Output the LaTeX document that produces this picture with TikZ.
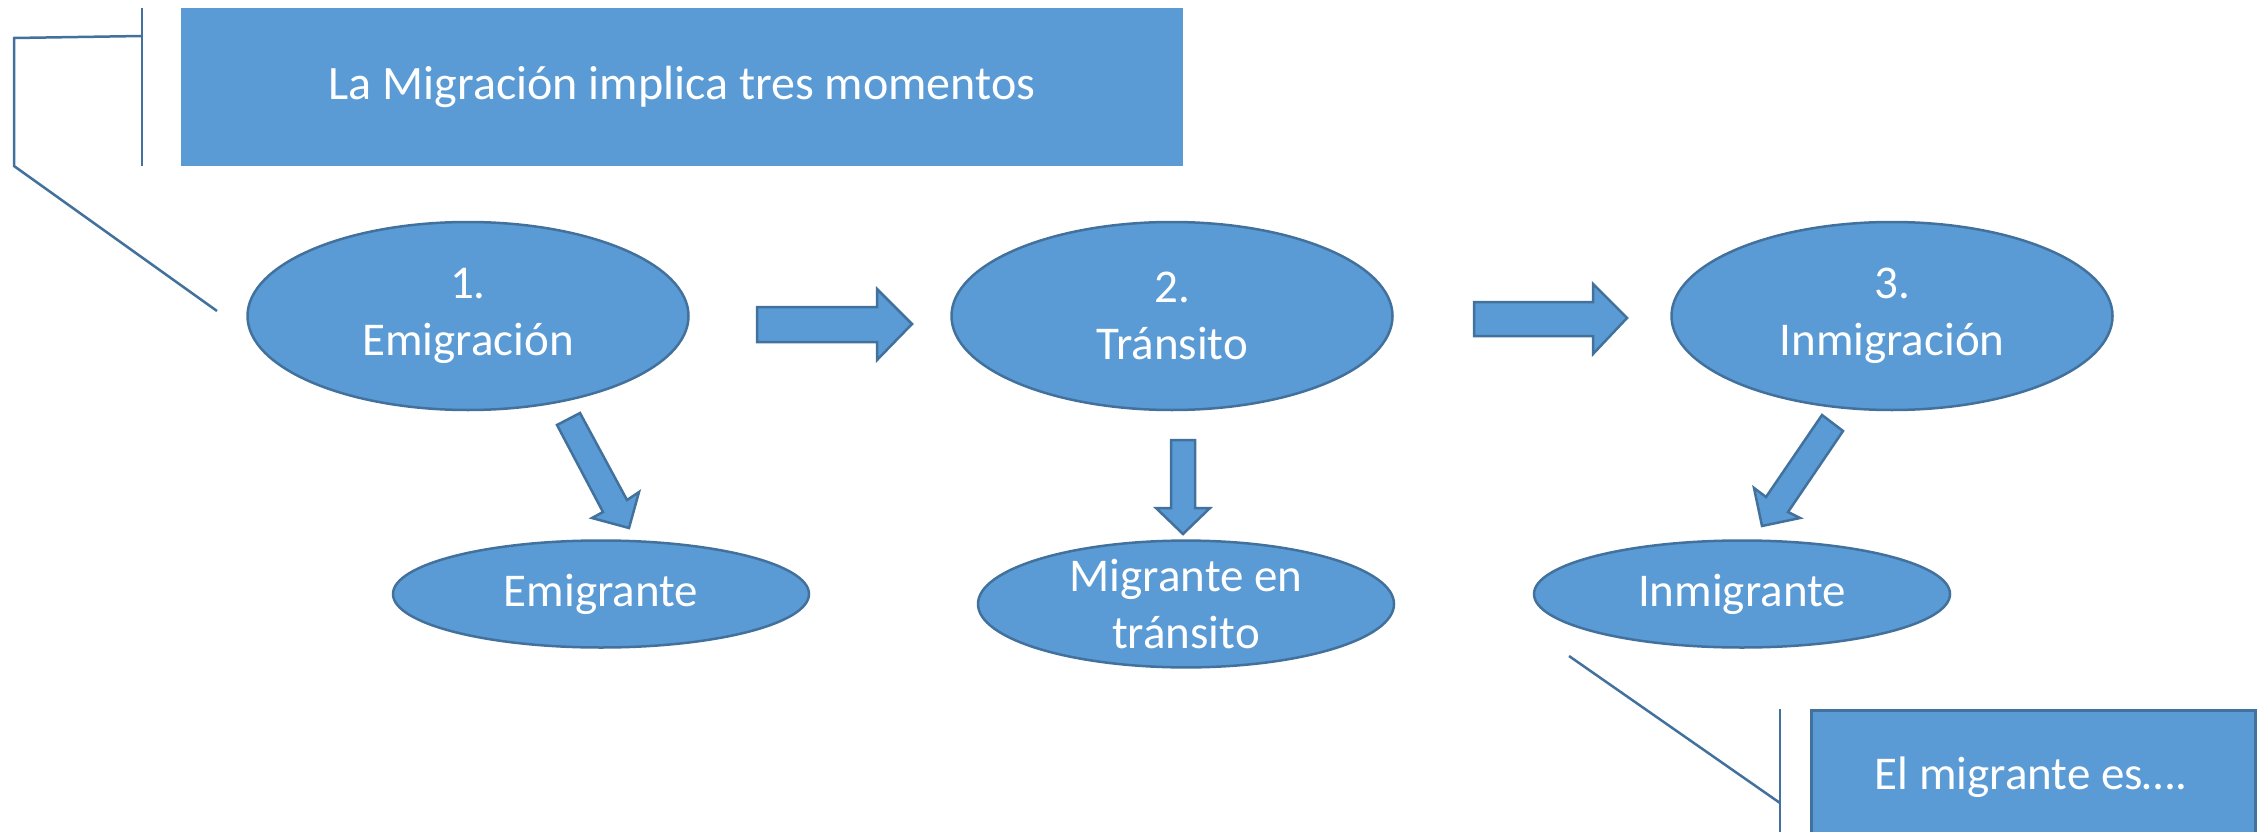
\documentclass[tikz,border=0pt]{standalone}
\usepackage{fontspec}
\setmainfont{Carlito}
\usetikzlibrary{shapes.geometric}
\definecolor{fillblue}{HTML}{5B9BD5}
\definecolor{edgeblue}{HTML}{41719C}
\tikzset{
  oval/.style={ellipse, fill=fillblue, draw=edgeblue, line width=2.5pt, text=white, align=center, inner sep=0pt,
    font=\fontsize{47}{57}\selectfont},
  blockarrow/.style={fill=fillblue, draw=edgeblue, line width=2.5pt, line join=miter},
  callline/.style={draw=edgeblue, line width=2.5pt},
  titlebox/.style={rectangle, fill=fillblue, text=white, inner sep=0pt, font=\fontsize{48}{58}\selectfont},
}
\begin{document}
\begin{tikzpicture}[x=1pt,y=-1pt]
\useasboundingbox (0,0) rectangle (2258,832);
% title box and its callout
\node[titlebox, minimum width=1002pt, minimum height=158pt] (title) at (682,87) {La Migración implica tres momentos};
\coordinate (c1a) at (142,8);
\coordinate (c1b) at (142,166);
\coordinate (c1c) at (142,36);
\coordinate (c1d) at (14,38);
\coordinate (c1e) at (14,166);
\coordinate (c1f) at (217,311);
\draw[callline] (c1a) -- (c1b);
\draw[callline] (c1c) -- (c1d) -- (c1e) -- (c1f);
% main ellipses
\node[oval, minimum width=441pt, minimum height=188pt] (e1) at (468,316) {1.\\Emigración};
\node[oval, minimum width=441pt, minimum height=188pt] (e2) at (1172,316) {2.\\Tránsito};
\node[oval, minimum width=441pt, minimum height=188pt] (e3) at (1892,316) {3.\\Inmigración};
% lower ellipses
\node[oval, minimum width=416pt, minimum height=107pt] (l1) at (601,594) {Emigrante};
\node[oval, minimum width=416pt, minimum height=126pt] (l2) at (1186,604) {Migrante en\\tránsito};
\node[oval, minimum width=416pt, minimum height=107pt] (l3) at (1742,594) {Inmigrante};
% block arrows
\draw[blockarrow] (757,307) -- (877,307) -- (877,289) -- (912,324) -- (877,360) -- (877,342) -- (757,342) -- cycle;
\draw[blockarrow] (1474,302) -- (1593,302) -- (1593,284) -- (1627,318) -- (1593,354) -- (1593,336) -- (1474,336) -- cycle;
\draw[blockarrow] (557,425) -- (580,413) -- (627,500) -- (639,492) -- (629,528) -- (592,518) -- (603,512) -- cycle;
\draw[blockarrow] (1171,440) -- (1195,440) -- (1195,508) -- (1210,508) -- (1183,534) -- (1156,508) -- (1171,508) -- cycle;
\draw[blockarrow] (1822,415) -- (1843,431) -- (1788,512) -- (1800,518) -- (1762,526) -- (1754,488) -- (1766,497) -- cycle;
% bottom-right box and its callout
\node[titlebox, draw=edgeblue, line width=2.5pt, minimum width=444pt, minimum height=140pt, anchor=north west] (note) at (1810,709) {};
\node[text=white, font=\fontsize{47}{57}\selectfont] (notetext) at (2031,777) {El migrante es….};
\coordinate (c2a) at (1780,709);
\coordinate (c2b) at (1780,840);
\coordinate (c2c) at (1569,656);
\coordinate (c2d) at (1780,803);
\draw[callline] (c2a) -- (c2b);
\draw[callline] (c2c) -- (c2d);
\end{tikzpicture}
\end{document}
